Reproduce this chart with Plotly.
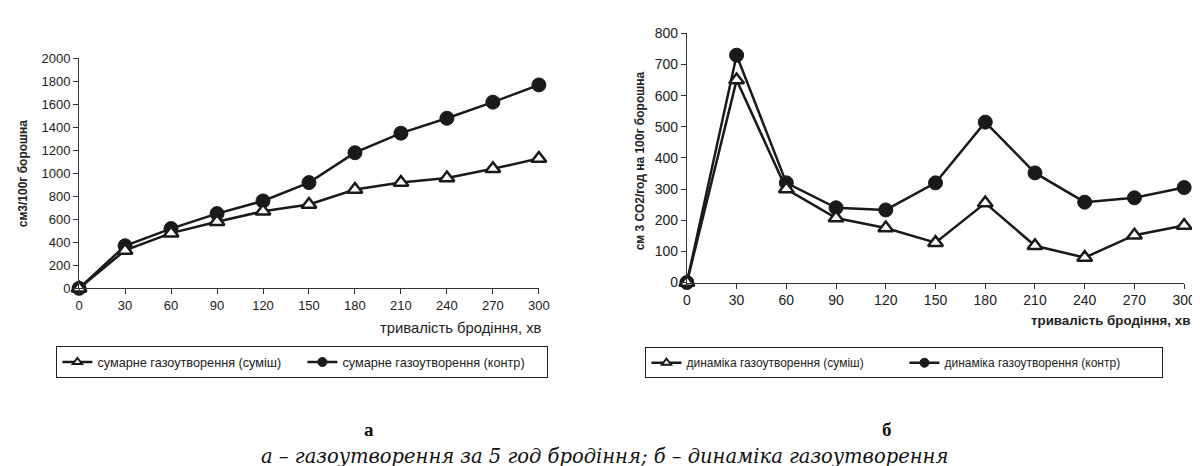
import plotly.graph_objects as go

minutes = [0, 30, 60, 90, 120, 150, 180, 210, 240, 270, 300]
# Chart a: cumulative gas formation, cm3/100 g flour
sum_mix = [0, 330, 480, 580, 670, 730, 860, 920, 960, 1040, 1130]
sum_ctrl = [0, 370, 520, 650, 760, 920, 1180, 1350, 1480, 1620, 1770]
# Chart b: gas formation dynamics, cm3 CO2/h per 100 g flour
dyn_mix = [0, 650, 300, 207, 175, 128, 255, 118, 80, 152, 183]
dyn_ctrl = [0, 730, 320, 240, 233, 320, 515, 352, 258, 272, 305]

left_ticks = [0, 200, 400, 600, 800, 1000, 1200, 1400, 1600, 1800, 2000]
right_ticks = [0, 100, 200, 300, 400, 500, 600, 700, 800]

name_sum_mix = "сумарне газоутворення (суміш)"
name_sum_ctrl = "сумарне газоутворення (контр)"
name_dyn_mix = "динаміка газоутворення (суміш)"
name_dyn_ctrl = "динаміка газоутворення (контр)"

FONT = "Liberation Sans"
W, H = 1200, 466

tri = dict(symbol="triangle-up", size=13, color="white", line=dict(color="#1a1a1a", width=2.5))
dot = dict(symbol="circle", size=14, color="#1a1a1a", line=dict(color="#1a1a1a", width=1))
tri_leg = dict(symbol="triangle-up", size=8, color="white", line=dict(color="#1a1a1a", width=2))
dot_leg = dict(symbol="circle", size=9, color="#1a1a1a", line=dict(color="#1a1a1a", width=1))
ln = dict(color="#1a1a1a", width=2.5)

fig = go.Figure()
series = [
    (sum_ctrl, name_sum_ctrl, dot, dot_leg, "x", "y", "legend", 2),
    (sum_mix, name_sum_mix, tri, tri_leg, "x", "y", "legend", 1),
    (dyn_ctrl, name_dyn_ctrl, dot, dot_leg, "x2", "y2", "legend2", 2),
    (dyn_mix, name_dyn_mix, tri, tri_leg, "x2", "y2", "legend2", 1),
]
for vals, name, mk, mk_leg, xa, ya, lg, rank in series:
    fig.add_trace(go.Scatter(x=minutes, y=vals, mode="lines+markers", name=name,
                             line=ln, marker=mk, xaxis=xa, yaxis=ya, showlegend=False,
                             cliponaxis=False))
    # legend entry with a smaller symbol, as in the reference
    fig.add_trace(go.Scatter(x=[None], y=[None], mode="lines+markers", name=name,
                             line=ln, marker=mk_leg, xaxis=xa, yaxis=ya, legend=lg,
                             legendrank=rank, showlegend=True))

def px(x):
    return x / W

def py(y):
    return 1 - y / H

def xax(size):
    return dict(range=[0, 300], tickvals=minutes, showgrid=False, zeroline=False,
                showline=True, linecolor="#333", linewidth=1, ticks="outside", ticklen=5,
                tickcolor="#333", tickfont=dict(family=FONT, size=size, color="#222"))

def yax(size):
    return dict(showgrid=False, zeroline=False,
                showline=True, linecolor="#333", linewidth=1, ticks="outside", ticklen=5,
                tickcolor="#333", tickfont=dict(family=FONT, size=size, color="#222"))

gridax = dict(showgrid=True, gridcolor="#444", gridwidth=1, zeroline=False, showline=False,
              showticklabels=False, ticks="")

ldom = [py(282), py(44)]
rdom = [py(276), py(18)]

fig.update_layout(
    width=W, height=H,
    margin=dict(l=0, r=0, t=0, b=0),
    paper_bgcolor="white", plot_bgcolor="white",
    font=dict(family=FONT, color="#222"),
    xaxis=dict(domain=[px(68), px(534)], anchor="y", **xax(13)),
    yaxis=dict(domain=ldom, anchor="x", range=[0, 2000], tickvals=left_ticks, **yax(13)),
    yaxis3=dict(domain=ldom, anchor="x", overlaying="y", range=[0, 2000],
                tickvals=left_ticks[1:-1], **gridax),
    xaxis2=dict(domain=[px(684), px(1188)], anchor="y2", **xax(14)),
    yaxis2=dict(domain=rdom, anchor="x2", range=[0, 800], tickvals=right_ticks, **yax(14)),
    yaxis4=dict(domain=rdom, anchor="x2", overlaying="y2", range=[0, 800],
                tickvals=right_ticks[1:-1], **gridax),
    legend=dict(orientation="h", x=px(45), xanchor="left", y=py(342), yanchor="top",
                bordercolor="#222", borderwidth=1, bgcolor="white",
                font=dict(family=FONT, size=12.7, color="#222"), traceorder="normal",
                entrywidth=200),
    legend2=dict(orientation="h", x=px(642), xanchor="left", y=py(343), yanchor="top",
                 bordercolor="#222", borderwidth=1, bgcolor="white",
                 font=dict(family=FONT, size=12, color="#222"), traceorder="normal",
                 entrywidth=213),
    showlegend=True,
)

ann = [
    dict(text="<b>см3/100г борошна</b>", x=px(12), y=py(163), textangle=-90,
         font=dict(family=FONT, size=12, color="#222")),
    dict(text="тривалість бродіння, хв", x=px(539), y=py(323), xanchor="right",
         font=dict(family=FONT, size=14.8, color="#222")),
    dict(text="<b>см 3 СО2/год на 100г борошна</b>", x=px(636), y=py(150), textangle=-90,
         font=dict(family=FONT, size=12, color="#222")),
    dict(text="<b>тривалість бродіння, хв</b>", x=px(1196), y=py(315), xanchor="right",
         font=dict(family=FONT, size=13.3, color="#222")),
    dict(text="<b>а</b>", x=px(362), y=py(428),
         font=dict(family="Liberation Serif", size=19, color="#111")),
    dict(text="<b>б</b>", x=px(887), y=py(428),
         font=dict(family="Liberation Serif", size=19, color="#111")),
    dict(text="<i>а – газоутворення за 5 год бродіння; б – динаміка газоутворення</i>",
         x=px(601), y=py(456),
         font=dict(family="DejaVu Serif", size=19.5, color="#111")),
]
for a in ann:
    a.update(xref="paper", yref="paper", showarrow=False, xanchor=a.get("xanchor", "center"),
             yanchor="middle")
fig.update_layout(annotations=ann)

fig.write_html("out.html")
